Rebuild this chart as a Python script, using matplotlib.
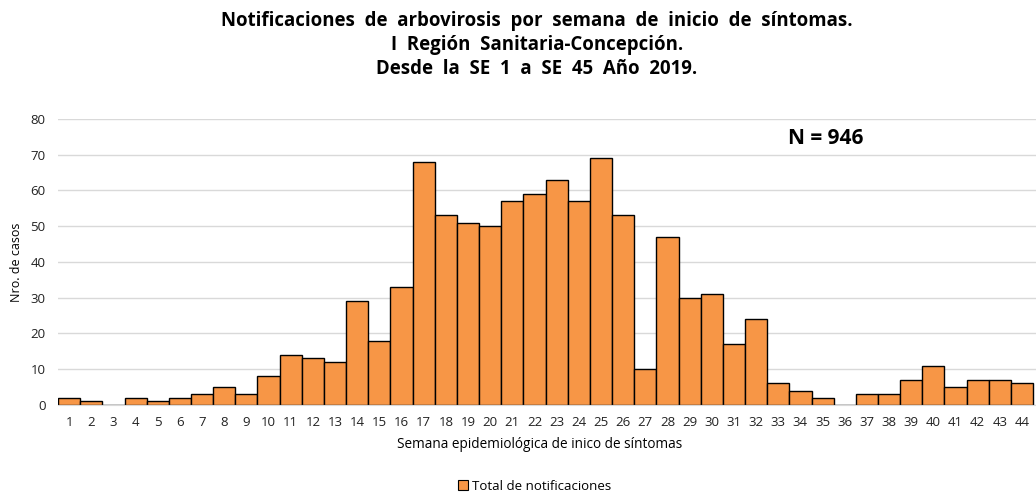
import numpy as np
import matplotlib
matplotlib.use("Agg")
import matplotlib.pyplot as plt
from matplotlib.patches import Patch

plt.rcParams["font.family"] = ["Open Sans", "DejaVu Sans"]

weeks = list(range(1, 45))
cases = [2, 1, 0, 2, 1, 2, 3, 5, 3, 8,
         14, 13, 12, 29, 18, 33, 68, 53, 51, 50,
         57, 59, 63, 57, 69, 53, 10, 47, 30, 31,
         17, 24, 6, 4, 2, 0, 3, 3, 7, 11,
         5, 7, 7, 6]
yticks = [0, 10, 20, 30, 40, 50, 60, 70, 80]

title = ("Notificaciones  de  arbovirosis  por  semana  de  inicio  de  síntomas.\n"
         "I  Región  Sanitaria-Concepción.\n"
         "Desde  la  SE  1  a  SE  45  Año  2019.")

fig = plt.figure(figsize=(10.36, 4.95), dpi=100)
ax = fig.add_axes([0.056, 0.182, 0.944, 0.578])

ax.bar(weeks, cases, width=1.0, color="#F79646", edgecolor="black", linewidth=1.0, zorder=3)

ax.set_xlim(0.5, 44.63)
ax.set_ylim(0, 80)
ax.set_yticks(yticks)
ax.set_xticks(weeks)
ax.set_xticklabels([str(w) for w in weeks])
ax.tick_params(axis="both", length=0, labelsize=9.5, colors="#222222")
ax.tick_params(axis="x", pad=8)
ax.tick_params(axis="y", pad=9)
ax.yaxis.grid(True, color="#d9d9d9", linewidth=1.0, zorder=0)
for s in ["top", "right", "left"]:
    ax.spines[s].set_visible(False)
ax.spines["bottom"].set_color("#d9d9d9")
ax.spines["bottom"].set_zorder(4)

ax.set_ylabel("Nro. de casos", fontsize=9, labelpad=5)
ax.set_xlabel("Semana epidemiológica de inico de síntomas", fontsize=9.8, labelpad=6)
ax.xaxis.label.set_x(0.492)

ax.text(0.785, 0.93, "N = 946", transform=ax.transAxes, fontsize=15, fontweight="bold",
        ha="center", va="center")

fig.suptitle(title, fontsize=13.4, fontweight="bold", x=0.518, y=0.978, linespacing=1.28)

handles = [Patch(facecolor="#F79646", edgecolor="black", linewidth=0.8, label="Total de notificaciones")]
fig.legend(handles=handles, loc="center", bbox_to_anchor=(0.516, 0.018), frameon=False,
           fontsize=9.5, handlelength=0.8, handleheight=0.8, handletextpad=0.3)

fig.savefig("out.png", dpi=100)
